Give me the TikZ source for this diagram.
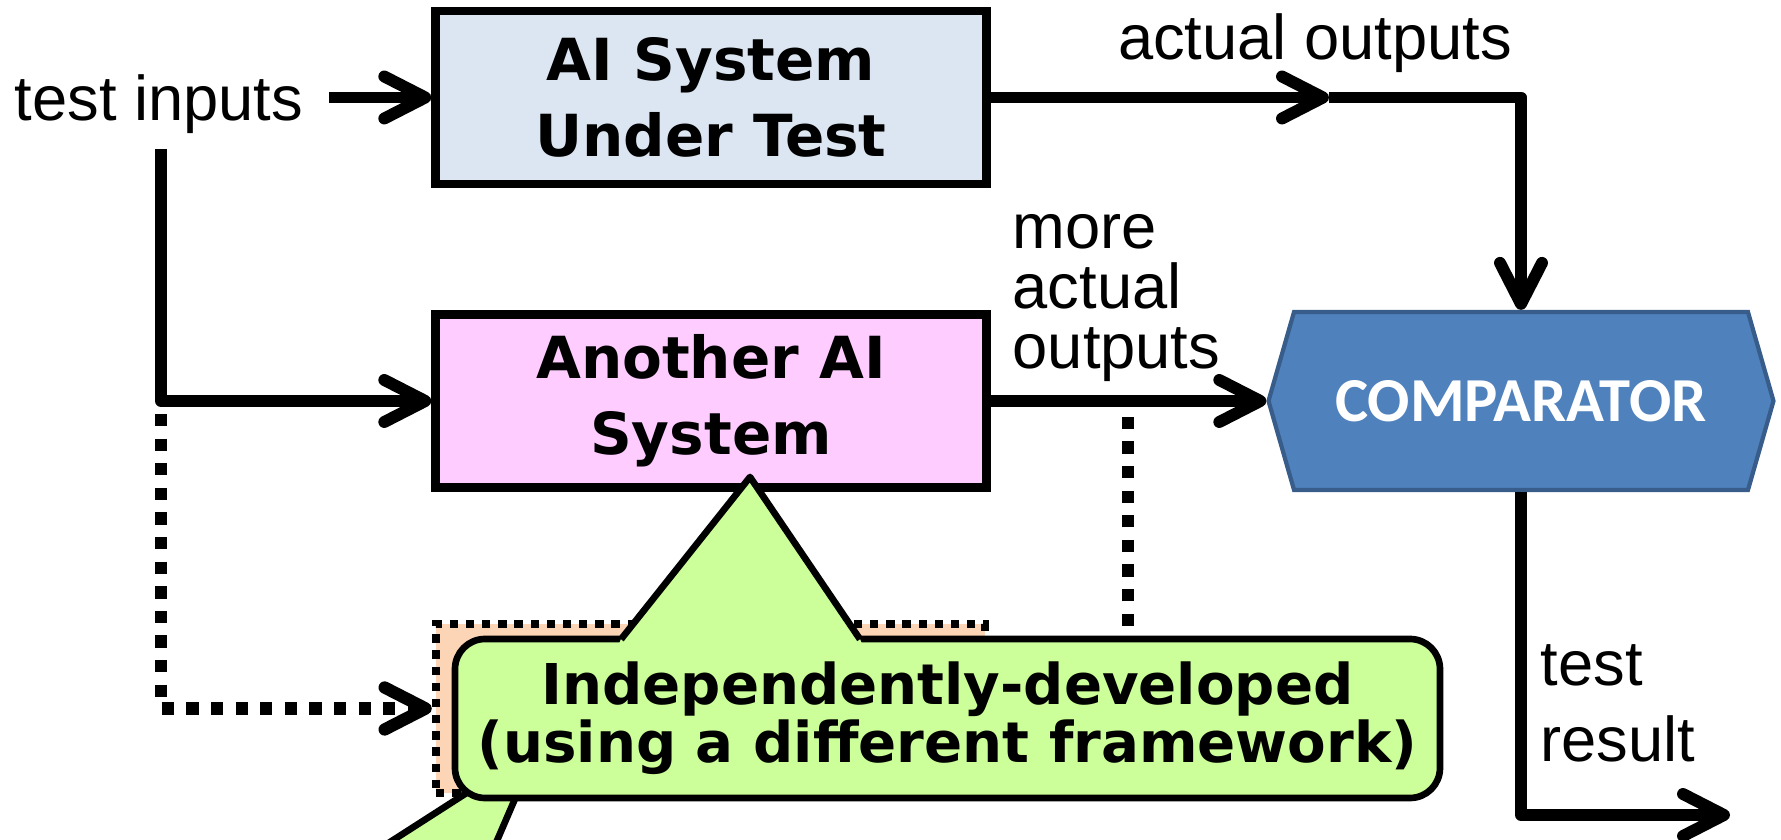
\documentclass[tikz,border=0pt]{standalone}
\usepackage{fontspec}
\setmainfont{Liberation Sans}
\newfontfamily\comicfont{DejaVu Sans}
\newfontfamily\calfont{Carlito}
\usetikzlibrary{arrows.meta,shapes.symbols}
\definecolor{sutfill}{RGB}{220,230,242}
\definecolor{altfill}{RGB}{255,204,255}
\definecolor{hiddenfill}{RGB}{251,213,181}
\definecolor{notefill}{RGB}{204,255,153}
\definecolor{cmpfill}{RGB}{79,129,189}
\definecolor{cmpdraw}{RGB}{56,93,138}

\begin{document}
\begin{tikzpicture}[x=0.1mm,y=-0.1mm,>={Straight Barb[length=4.1mm,width=4.2mm,round]}]
    \pgfmathsetmacro{\boxw}{55.1}
    \pgfmathsetmacro{\boxh}{17.3}
    \tikzset{every node/.style={inner sep=0pt},
      flowtext/.style={font=\fontsize{18}{21}\selectfont},
      system/.style={draw,line width=2.4pt,minimum width=\boxw mm,minimum height=\boxh mm,align=center,font=\comicfont\bfseries\fontsize{16.5}{21.5}\selectfont},
      flow/.style={line width=3.4pt,line join=round,->},
      dotline/.style={line width=3.5pt,dash pattern=on 3.5pt off 3.5pt},
      pointer/.style={line width=1.9pt,line join=round}}
    \useasboundingbox (0,0) rectangle (1781,840);
    \node[draw,line width=2.4pt,dash pattern=on 2.4pt off 2.2pt,fill=hiddenfill,minimum width=54.9mm,minimum height=16.9mm] (hidden) at (710.5,708.5) {};
\node[system,fill=sutfill] (sut) at (711,97.5) {AI System\\Under Test};
\node[system,fill=altfill] (alt) at (711,401) {Another AI\\System};
\node[shape=signal,signal to=east and west,signal pointer angle=148,minimum width=50.5mm,minimum height=17.8mm,fill=cmpfill,draw=cmpdraw,line width=1.2pt,text=white,font=\calfont\bfseries\fontsize{17.8}{20}\selectfont] (cmp) at (1521,401) {COMPARATOR};
\node[flowtext] (tin) at (159,104) {test inputs};
\node[flowtext,anchor=base] (aout) at (1315,60) {actual outputs};
\node[flowtext,anchor=west,align=left,font=\fontsize{18}{17}\selectfont] (mout) at (1012,298) {more\\actual\\outputs};
\node[flowtext,anchor=west,align=left,font=\fontsize{18}{21.6}\selectfont] (tres) at (1540,703) {test\\result};
\coordinate (fork) at (161,401);
\coordinate (tap) at (1128,401);
\coordinate (mid) at (1329,97.5);
\coordinate (out) at (1730,815);
\draw[dotline,->] ([yshift=-1.3mm]fork) |- (hidden.west);
\draw[dotline] (hidden.east) -| ([yshift=-1.3mm]tap);
\draw[flow] ([xshift=2.5mm]tin.east |- sut.west) -- (sut.west);
\draw[flow] ([yshift=-1.5mm]tin.south -| fork) -- (fork) -- (alt.west);
\draw[flow] (sut.east) -- (mid);
\draw[flow] (mid) -| (cmp.north);
\draw[flow] (alt.east) -- (cmp.west);
\draw[flow] (cmp.south) |- (out);
\filldraw[pointer,fill=notefill] (479,785) -- (331,880) -- (480,880) -- (521,785) -- cycle;
\node[draw,line width=1.9pt,rounded corners=3mm,fill=notefill,minimum width=98.5mm,minimum height=15.9mm,align=center,font=\comicfont\bfseries\fontsize{16}{16.5}\selectfont] (note) at (947.5,718.5) {Independently-developed\\(using a different framework)};
\coordinate (apex) at (750,477);
\fill[notefill] (apex) -- (621,639) -- (619,644) -- (862,644) -- (860,639) -- cycle;
\draw[pointer] (621,639.3) -- (apex) -- (860,639.3);

\end{tikzpicture}
\end{document}
